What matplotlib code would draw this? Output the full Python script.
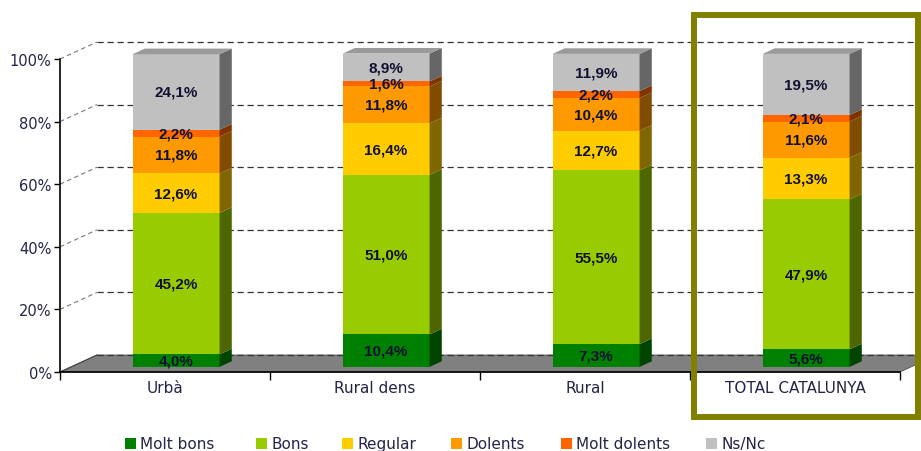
"""Qualitat dels serveis per tipus de municipi: barres apilades amb efecte 3D."""

import matplotlib

matplotlib.use("Agg")
import matplotlib.pyplot as plt
from matplotlib.patches import Polygon, Rectangle

categories = ["Urbà", "Rural dens", "Rural", "TOTAL CATALUNYA"]
series_names = ["Molt bons", "Bons", "Regular", "Dolents", "Molt dolents", "Ns/Nc"]
molt_bons = [4.0, 10.4, 7.3, 5.6]
bons = [45.2, 51.0, 55.5, 47.9]
regular = [12.6, 16.4, 12.7, 13.3]
dolents = [11.8, 11.8, 10.4, 11.6]
molt_dolents = [2.2, 1.6, 2.2, 2.1]
ns_nc = [24.1, 8.9, 11.9, 19.5]
y_ticks = [0, 20, 40, 60, 80, 100]

front_colors = ["#008000", "#99cc00", "#ffcc00", "#ff9900", "#ff6600", "#c0c0c0"]
side_colors = ["#004400", "#4d6600", "#806600", "#804d00", "#803300", "#666666"]
top_color = "#9a9a9a"
text_color = "#242448"
label_color = "#111133"

W, H = 921, 452
fig = plt.figure(figsize=(W / 100, H / 100), dpi=100)
fig.patch.set_facecolor("white")
ax = fig.add_axes([60 / W, 79 / H, 840 / W, 313 / H])
ax.set_xlim(-0.5, 3.5)
ax.set_ylim(0, 100)
ax.patch.set_visible(False)

# depth vector of the 3D box (data units), bar placement inside it
DX, DY = 37 / 210, 17 / 3.13
front_off = 0.30
bar_depth = 0.33
bar_w = 0.414
ox, oy = front_off * DX, front_off * DY
sx, sy = bar_depth * DX, bar_depth * DY

# floor
floor = Polygon(
    [(-0.5, 0), (3.5, 0), (3.5 + DX, DY), (-0.5 + DX, DY)],
    closed=True, facecolor="#808080", edgecolor="#555555", lw=0.6,
    clip_on=False, zorder=1,
)
ax.add_patch(floor)

# back-wall gridlines and left-wall diagonals
for v in y_ticks:
    ax.plot([-0.5 + DX, 3.5 + DX + 0.3], [v + DY, v + DY], color="#333333",
            lw=0.9, ls=(0, (5, 3)), clip_on=False, zorder=1.6)
    if v == 0:
        ax.plot([-0.5, -0.5 + DX], [v, v + DY], color="#444444", lw=0.8,
                clip_on=False, zorder=1.6)
    else:
        ax.plot([-0.5, -0.5 + DX], [v, v + DY], color="#777777", lw=0.8,
                ls=(0, (4, 3)), clip_on=False, zorder=1.6)

series = [molt_bons, bons, regular, dolents, molt_dolents, ns_nc]
for i in range(len(categories)):
    xl = i - bar_w / 2 + ox
    xr = xl + bar_w
    bottom = 0.0
    for s, vals in enumerate(series):
        v = vals[i]
        y0, y1 = bottom + oy, bottom + v + oy
        ax.add_patch(Rectangle((xl, y0), bar_w, v, facecolor=front_colors[s],
                               edgecolor="none", clip_on=False, zorder=3))
        ax.add_patch(Polygon([(xr, y0), (xr + sx, y0 + sy), (xr + sx, y1 + sy), (xr, y1)],
                             closed=True, facecolor=side_colors[s], edgecolor="none",
                             clip_on=False, zorder=3))
        ax.text((xl + xr) / 2, (y0 + y1) / 2, f"{v:.1f}%".replace(".", ","),
                ha="center", va="center", fontsize=11, fontweight="bold",
                family="Liberation Sans", color=label_color, zorder=4)
        bottom += v
    ytop = bottom + oy
    ax.add_patch(Polygon([(xl, ytop), (xr, ytop), (xr + sx, ytop + sy), (xl + sx, ytop + sy)],
                         closed=True, facecolor=top_color, edgecolor="none",
                         clip_on=False, zorder=3))

# axes styling
for side in ("top", "right"):
    ax.spines[side].set_visible(False)
for side in ("left", "bottom"):
    ax.spines[side].set_color("black")
    ax.spines[side].set_linewidth(1.2)
    ax.spines[side].set_zorder(2)
ax.set_yticks(y_ticks)
ax.set_yticklabels([f"{v}%" for v in y_ticks])
ax.tick_params(axis="y", length=4, width=1, pad=2, labelsize=10.5, labelcolor=text_color)
ax.set_xticks([-0.5, 0.5, 1.5, 2.5, 3.5])
ax.set_xticklabels([])
ax.tick_params(axis="x", which="major", length=6, width=1, direction="out")
ax.set_xticks(range(len(categories)), minor=True)
ax.set_xticklabels(categories, minor=True)
ax.tick_params(axis="x", which="minor", length=0, pad=6, labelsize=11, labelcolor=text_color)

# legend
legend_x = [125, 256, 342, 451, 561, 706]
for name, color, x in zip(series_names, front_colors, legend_x):
    fig.add_artist(Rectangle((x / W, 2 / H), 11 / W, 11 / H, transform=fig.transFigure,
                             facecolor=color, edgecolor="none"))
    fig.text((x + 15) / W, 7.5 / H, name, ha="left", va="center", fontsize=11,
             color=text_color)

# highlight frame around the Catalunya total
fig.add_artist(Rectangle((694 / W, (H - 418) / H), (918 - 694) / W, (418 - 16) / H,
                         transform=fig.transFigure, fill=False, edgecolor="#808000",
                         lw=4.3, zorder=6))

fig.savefig("out.png", dpi=100)
